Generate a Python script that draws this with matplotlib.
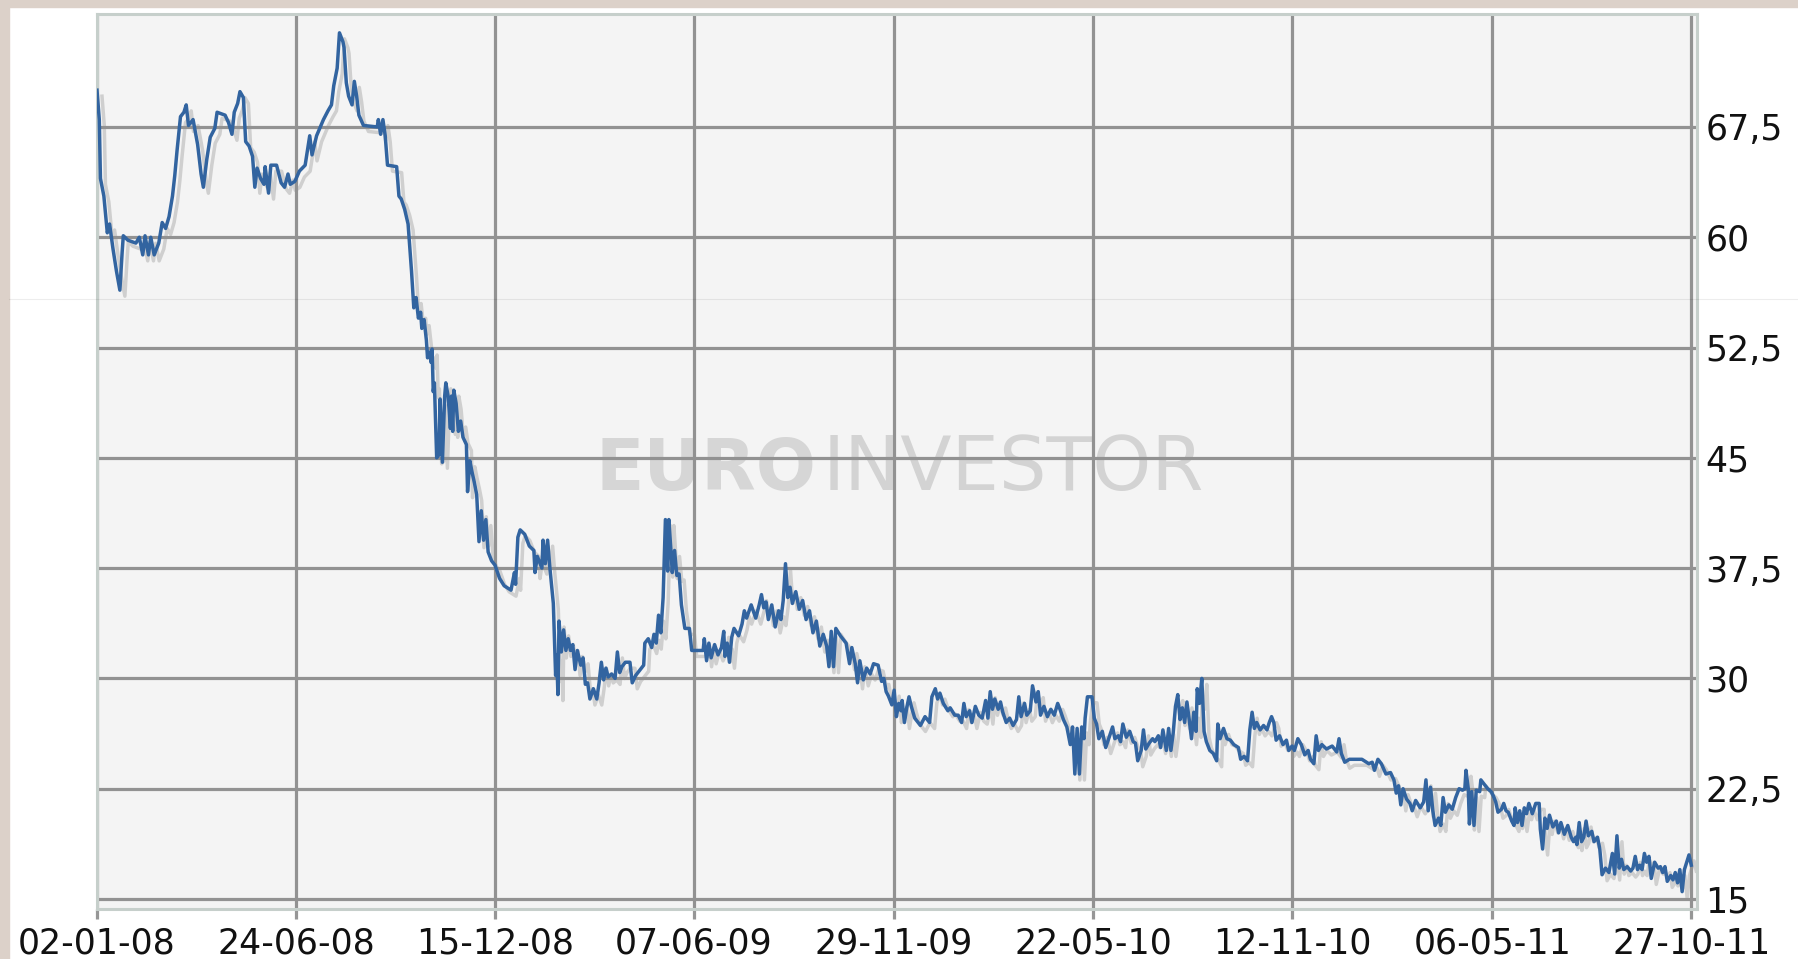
import matplotlib
matplotlib.use('Agg')
import matplotlib.pyplot as plt
import matplotlib.dates as mdates
import matplotlib.transforms as mtransforms
from matplotlib.patches import Rectangle
from matplotlib.lines import Line2D
import pandas as pd

# share price: days after 02-01-08 and closing value
START = '2008-01-02'
days = [
    0, 2, 3, 6, 9, 11, 14, 17, 20, 22, 23, 27, 34, 37, 40, 42, 45, 47, 50, 54,
    57, 60, 63, 66, 68, 70, 73, 76, 78, 80, 84, 88, 91, 93, 96, 99, 103, 105, 112, 115,
    118, 120, 123, 125, 128, 130, 133, 136, 138, 140, 143, 146, 147, 150, 152, 157, 161, 164, 167, 169,
    173, 177, 182, 186, 188, 192, 198, 202, 205, 207, 210, 212, 215, 216, 218, 220, 223, 225, 227, 229,
    233, 245, 246, 248, 250, 252, 254, 262, 264,
    266, 269, 272, 275, 277, 279, 281, 283, 284, 286, 288, 289, 291, 292, 293, 294, 295, 297, 299, 300,
    302, 304, 305, 307, 309, 310, 311, 312, 314, 316, 318, 320, 323, 324, 326, 328, 330, 332, 334, 336,
    338, 340, 342, 345, 348, 352, 356, 362, 365, 366, 368, 370, 374, 378, 382, 383, 385, 389, 390, 392,
    394, 396, 399, 401, 402, 403,
    404, 406, 408, 410, 412, 414, 416, 418, 420, 423, 425, 427, 429, 431, 434, 437, 439, 441, 443, 445,
    447, 450, 453, 455, 457, 459, 462, 466, 468, 471, 473, 476, 478, 479, 482, 485, 487, 489, 491, 493,
    495, 497, 499, 500, 502, 503, 505, 507, 509, 511, 514, 518, 520, 530, 531, 533, 535, 537, 540, 543,
    546, 548, 549, 551, 553, 555, 557, 561, 564, 566, 568, 572, 576, 579, 581, 583, 585, 587, 590, 593,
    596, 598, 600, 602, 604, 606, 608, 611, 614, 617, 620, 623, 626, 629, 632, 635, 638, 640, 642, 644,
    646, 650, 655, 658, 660, 663, 665, 667, 670, 673, 676, 679,
    683, 686, 688, 690, 692, 695, 697, 699, 701, 703, 704, 706, 708, 710, 712, 715, 718, 720, 724, 728,
    730, 733, 735, 737, 740, 744, 746, 750, 753, 756, 758, 760, 763, 765, 768, 771, 774, 777, 779, 781,
    783, 785, 788, 790, 792, 795, 798, 801, 804, 806, 808, 811, 813, 816, 818, 821, 823, 825, 828, 831,
    834, 837, 840, 842, 845, 848, 851, 853, 855, 857, 859, 861, 863, 864, 866, 870, 872, 874, 876, 879,
    882, 885, 888, 890, 893, 895, 897, 900, 903, 906, 908, 910, 913, 915, 917, 920, 923, 925, 928, 930,
    932, 935, 937, 939, 941, 943, 945,
    947, 949, 951, 953, 955, 957, 959, 961, 962, 964, 966, 968, 970, 973, 976, 979, 980, 982, 985, 988,
    991, 994, 998, 1000, 1003, 1006, 1008, 1010, 1012, 1014, 1017, 1020, 1023, 1025, 1027, 1029, 1031, 1034, 1037, 1040,
    1042, 1045, 1047, 1050, 1053, 1056, 1059, 1061, 1064, 1066, 1068, 1071, 1075, 1080, 1084, 1086, 1088, 1091, 1095, 1106,
    1112, 1115, 1117, 1120, 1123, 1127, 1131, 1134, 1136, 1138, 1140, 1142, 1145, 1148, 1150, 1153, 1157, 1160, 1162, 1164,
    1166, 1168, 1170, 1173, 1175, 1177, 1179, 1182, 1185, 1188, 1191, 1194, 1196, 1197, 1199, 1200, 1202, 1204, 1206,
    1209, 1210, 1213, 1216, 1219, 1221, 1223, 1225, 1228, 1230, 1232, 1234, 1237, 1239, 1240, 1242, 1244, 1246, 1248, 1250,
    1252, 1255, 1258, 1261, 1262, 1264, 1266, 1268, 1270, 1273, 1276, 1278, 1280, 1283, 1286, 1289, 1291, 1293, 1294, 1296,
    1298, 1300, 1302, 1304, 1307, 1309, 1312, 1314, 1316, 1319, 1322, 1325, 1327, 1329, 1331, 1333, 1335, 1338, 1341, 1343,
    1345, 1347, 1349, 1351, 1353, 1355, 1357, 1359, 1362, 1365, 1367, 1369, 1371, 1373, 1376, 1378, 1380, 1382, 1384, 1386,
    1388, 1390, 1392, 1394,
]
close = [
    70.0, 68.0, 64.0, 62.8, 60.3, 60.9, 59.2, 57.7, 56.4, 59.0, 60.1, 59.8, 59.6, 60.0, 58.8, 60.1, 58.8, 60.0, 58.8, 59.6,
    61.0, 60.6, 61.4, 62.8, 64.2, 65.9, 68.2, 68.5, 69.0, 67.6, 68.0, 66.3, 64.3, 63.4, 65.3, 66.8, 67.4, 68.5, 68.3, 67.8,
    67.0, 68.5, 69.1, 69.9, 69.5, 66.5, 66.2, 65.5, 63.4, 64.7, 64.0, 63.6, 64.8, 63.0, 64.9, 64.9, 63.7, 63.4, 64.3, 63.6,
    63.8, 64.5, 64.9, 66.9, 65.6, 66.9, 68.0, 68.6, 69.0, 70.3, 71.5, 73.9, 73.3, 72.9, 70.5, 69.6, 69.0, 70.6, 69.6, 68.3,
    67.6, 67.5, 68.0, 67.0, 68.0, 66.9, 64.9, 64.8, 62.8,
    62.6, 61.9, 60.9, 57.7, 55.2, 55.9, 54.5, 54.9, 53.8, 54.4, 53.0, 51.8, 52.2, 51.5, 52.4, 49.5, 50.1, 45.0, 45.2, 49.0,
    44.7, 49.2, 50.1, 49.2, 47.0, 49.2, 46.8, 49.6, 48.7, 46.8, 47.5, 46.4, 45.9, 42.7, 44.8, 44.0, 43.3, 42.5, 39.3, 41.4,
    39.4, 40.8, 38.6, 38.0, 37.7, 36.8, 36.3, 36.0, 37.2, 36.4, 39.6, 40.1, 39.8, 39.0, 38.7, 37.2, 38.3, 37.5, 39.4, 37.8,
    39.4, 37.5, 35.1, 30.2, 31.6, 28.9,
    33.9, 31.8, 33.3, 31.9, 32.7, 31.9, 32.3, 30.6, 31.9, 30.9, 31.4, 29.6, 29.7, 28.6, 29.3, 28.6, 29.7, 31.1, 29.9, 30.7,
    30.1, 30.3, 30.0, 31.8, 30.4, 30.8, 31.1, 31.1, 29.7, 30.2, 30.4, 30.7, 30.9, 32.4, 32.7, 32.1, 33.0, 32.4, 34.3, 33.1,
    35.5, 40.8, 37.3, 40.8, 38.5, 37.2, 38.7, 37.0, 37.1, 35.0, 33.4, 33.4, 31.9, 31.9, 32.7, 31.2, 32.4, 31.4, 32.3, 31.6,
    32.1, 33.2, 31.5, 32.4, 31.1, 32.8, 33.4, 32.9, 33.7, 34.6, 34.1, 35.0, 34.1, 35.0, 35.7, 34.8, 35.2, 34.0, 35.0, 33.5,
    34.6, 34.0, 35.3, 37.8, 35.5, 36.2, 35.1, 35.9, 34.7, 35.3, 34.0, 34.6, 33.1, 33.9, 32.2, 33.0, 32.2, 30.8, 33.2, 30.8,
    33.4, 32.9, 32.4, 31.0, 32.1, 31.0, 29.7, 31.2, 29.9, 30.7, 30.3, 31.0,
    30.9, 29.8, 30.0, 29.1, 28.8, 28.2, 29.2, 27.4, 28.3, 27.8, 28.5, 27.0, 28.0, 28.75, 28.1, 27.3, 27.0, 26.8, 27.4, 27.0,
    28.75, 29.3, 28.6, 29.0, 28.3, 27.8, 28.0, 27.5, 27.5, 27.0, 28.3, 27.4, 27.8, 27.0, 28.1, 27.5, 27.3, 28.5, 27.3, 29.1,
    27.9, 28.6, 27.9, 28.4, 27.7, 27.0, 27.3, 26.8, 27.2, 28.75, 27.4, 28.3, 27.5, 27.8, 29.5, 28.4, 29.1, 27.5, 28.1, 27.4,
    27.9, 27.5, 28.3, 27.9, 27.2, 26.7, 25.5, 26.7, 23.5, 26.6, 23.5, 26.7, 25.9, 27.3, 28.75, 28.75, 27.3, 26.9, 25.9, 26.4,
    25.3, 26.0, 26.7, 25.9, 26.1, 25.7, 26.9, 26.0, 26.4, 25.7, 25.6, 24.4, 25.1, 26.5, 25.2, 25.6, 25.9, 25.7, 26.1, 25.3,
    26.5, 25.1, 26.6, 25.1, 26.3, 28.1, 28.9,
    27.2, 28.0, 27.0, 28.4, 27.2, 25.9, 27.7, 26.4, 29.3, 28.3, 30.0, 26.4, 25.7, 25.1, 24.9, 24.4, 26.9, 25.9, 26.6, 25.9,
    25.8, 25.5, 25.3, 24.5, 24.7, 24.4, 26.5, 27.7, 26.6, 27.0, 26.5, 26.8, 26.5, 27.0, 27.4, 27.0, 25.8, 26.1, 25.5, 25.8,
    25.1, 25.4, 25.1, 25.9, 25.5, 24.8, 25.1, 24.5, 24.2, 26.1, 25.1, 25.5, 25.2, 25.4, 25.0, 25.9, 24.9, 24.3, 24.5, 24.5,
    24.2, 24.3, 23.75, 24.5, 24.2, 23.5, 23.6, 23.1, 22.2, 22.7, 21.4, 22.5, 21.8, 21.5, 21.0, 21.7, 21.2, 21.6, 23.1, 21.0,
    22.6, 21.0, 20.0, 20.5, 20.0, 21.9, 20.9, 21.4, 21.1, 21.9, 22.5, 22.4, 22.5, 23.75, 22.5, 20.1, 22.3, 20.0, 22.4,
    22.3, 23.1, 22.8, 22.5, 22.3, 22.0, 21.6, 20.9, 21.1, 21.5, 21.0, 20.9, 20.3, 20.0, 21.2, 20.2, 21.0, 20.0, 21.2, 20.8,
    21.5, 20.8, 21.5, 21.5, 19.75, 18.4, 20.5, 19.8, 20.7, 19.9, 20.3, 19.5, 20.2, 19.4, 20.0, 19.2, 18.9, 19.2, 18.7, 20.2,
    18.9, 19.2, 20.3, 19.3, 19.6, 18.9, 19.2, 18.4, 16.65, 17.1, 16.8, 18.1, 16.7, 19.3, 17.1, 17.7, 17.0, 17.2, 16.9, 17.1,
    17.9, 17.0, 17.3, 17.0, 18.1, 17.5, 17.9, 16.4, 17.5, 17.1, 17.2, 16.8, 17.2, 16.2, 16.6, 16.3, 16.8, 16.1, 17.0, 15.5,
    17.0, 17.5, 18.0, 17.3,
]

x_tick_dates = ['2008-01-02', '2008-06-24', '2008-12-15', '2009-06-07', '2009-11-29',
                '2010-05-22', '2010-11-12', '2011-05-06', '2011-10-27']
y_ticks = [15, 22.5, 30, 37.5, 45, 52.5, 60, 67.5]

W, H = 1798, 959
dates = pd.Timestamp(START) + pd.to_timedelta(days, unit='D')

fig = plt.figure(figsize=(W / 100, H / 100), dpi=100, facecolor='white')

# beige page strips top and left
fig.patches.append(Rectangle((0, 1 - 7 / H), 1, 7 / H, transform=fig.transFigure,
                             color='#dcd1c9', zorder=0))
fig.patches.append(Rectangle((0, 0), 9 / W, 1, transform=fig.transFigure,
                             color='#dcd1c9', zorder=0))

ax = fig.add_axes([97 / W, 50 / H, 1600 / W, 895 / H])
ax.set_facecolor('#f4f4f4')

# grey drop shadow, then the blue line
shadow = mtransforms.offset_copy(ax.transData, fig=fig, x=5, y=-6, units='dots')
ax.plot(dates, close, color='#cfcfcf', lw=2.5, transform=shadow, zorder=1)
ax.plot(dates, close, color='#3264a0', lw=2.5, zorder=3)

ax.set_xlim(pd.Timestamp(START), pd.Timestamp(START) + pd.Timedelta(days=1399))
ax.set_ylim(14.32, 75.18)

ax.set_axisbelow('line')
ax.grid(True, color='#929292', lw=2.3)

ax.set_xticks(pd.to_datetime(x_tick_dates))
ax.xaxis.set_major_formatter(mdates.DateFormatter('%d-%m-%y'))
ax.tick_params(axis='x', direction='out', length=7.5, width=2.3, color='#969696',
               pad=5, labelsize=25, labelcolor='#111111')

ax.yaxis.tick_right()
ax.set_yticks(y_ticks)
ax.set_yticklabels([f'{v:g}'.replace('.', ',') for v in y_ticks])
ax.tick_params(axis='y', length=0, pad=6, labelsize=25, labelcolor='#111111')

for sp in ax.spines.values():
    sp.set_color('#c6cfcb')
    sp.set_linewidth(2.2)

# watermark
ax.text(596 / W, (H - 490) / H, 'EURO', transform=fig.transFigure, fontsize=51,
        fontweight='bold', color='#d6d6d6', va='baseline', ha='left', zorder=0.8)
ax.text(823 / W, (H - 490) / H, 'INVESTOR', transform=fig.transFigure, fontsize=54,
        color='#d3d3d3', va='baseline', ha='left', zorder=0.8)

# faint scan line across the page
fig.lines.append(Line2D([9 / W, 1], [(H - 299) / H] * 2, transform=fig.transFigure,
                        color='black', alpha=0.07, lw=0.8, zorder=5))

fig.savefig('out.png', dpi=100, facecolor='white')
